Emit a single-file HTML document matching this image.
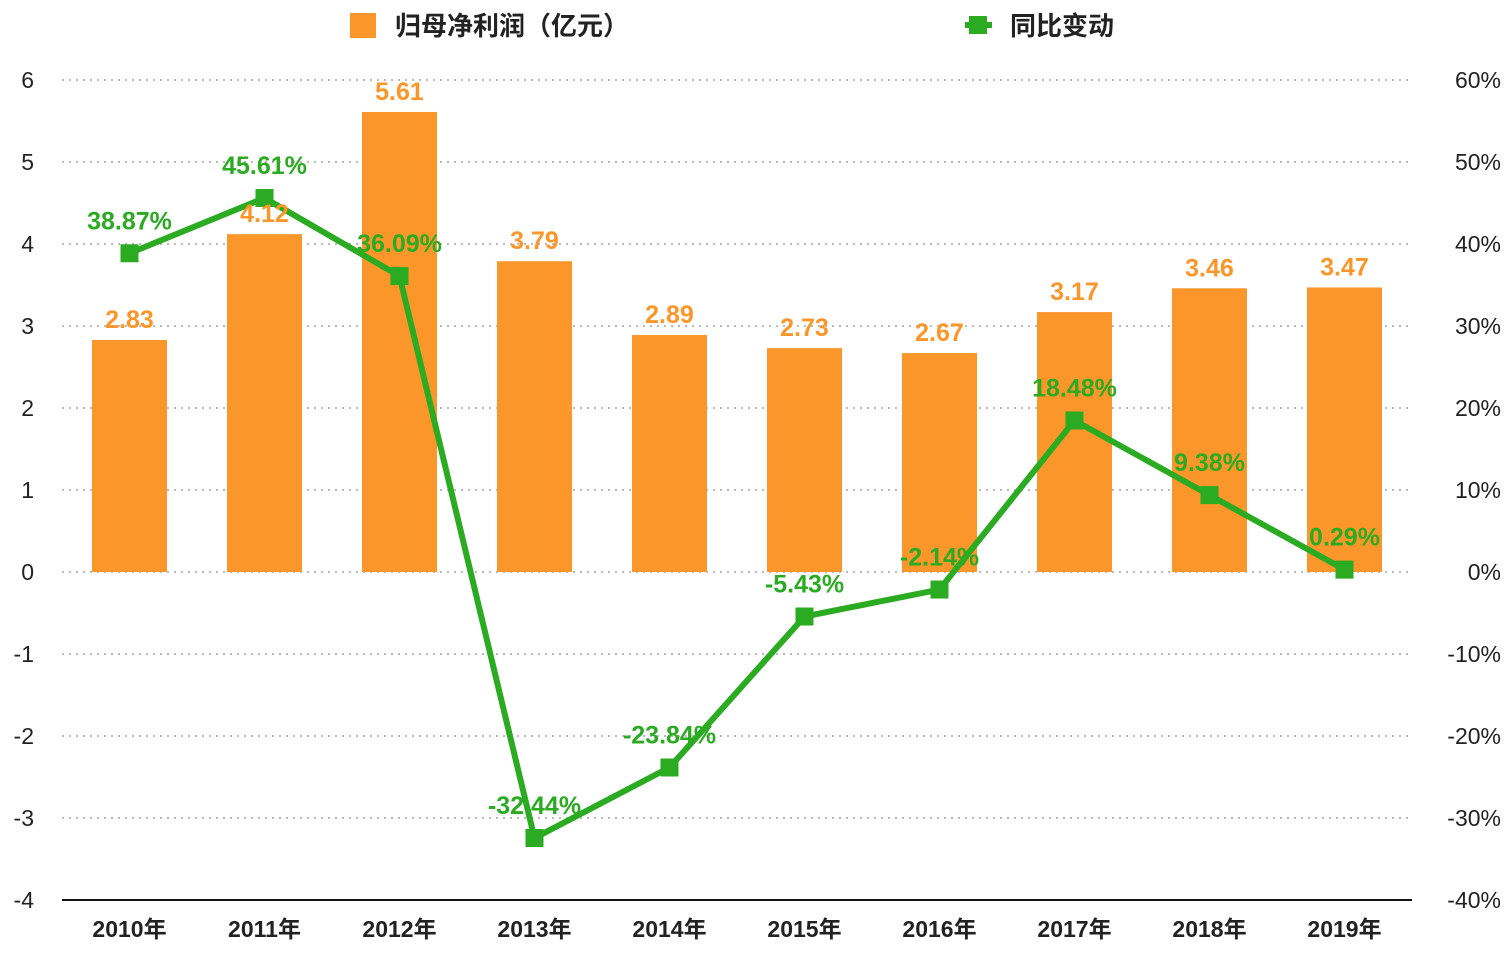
<!DOCTYPE html>
<html><head><meta charset="utf-8"><style>
body{margin:0;background:#fff;}
svg text{font-family:"Liberation Sans","Noto Sans CJK SC",sans-serif;}
</style></head><body>
<svg id="chart" width="1510" height="950" xmlns="http://www.w3.org/2000/svg">
<g>
<rect x="350" y="13" width="26" height="25" fill="#fb962a"/>
<text x="395" y="35" font-size="26" font-weight="bold" fill="#222">归母净利润（亿元）</text>
<line x1="965" y1="25" x2="992" y2="25" stroke="#2aab22" stroke-width="6"/>
<rect x="969" y="16" width="18" height="18" fill="#2aab22"/>
<text x="1010" y="35" font-size="26" font-weight="bold" fill="#222">同比变动</text>
</g>
<g id="grid"></g><g id="bars"></g><g id="line"></g><g id="labels"></g>
</svg>
<script>
const categories=["2010年","2011年","2012年","2013年","2014年","2015年","2016年","2017年","2018年","2019年"];
const profit=[2.83,4.12,5.61,3.79,2.89,2.73,2.67,3.17,3.46,3.47];
const yoy=[38.87,45.61,36.09,-32.44,-23.84,-5.43,-2.14,18.48,9.38,0.29];
const leftTicks=[6,5,4,3,2,1,0,-1,-2,-3,-4];
const rightTicks=["60%","50%","40%","30%","20%","10%","0%","-10%","-20%","-30%","-40%"];
const NS="http://www.w3.org/2000/svg";
const x0=62,x1=1412,band=(x1-x0)/categories.length;
const yL=v=>572-v*82;
const yR=p=>572-p*8.2;
const xC=i=>x0+band*(i+0.5);
function mk(tag,attrs,parent,txt){const e=document.createElementNS(NS,tag);for(const k in attrs)e.setAttribute(k,attrs[k]);if(txt!==undefined)e.textContent=txt;document.getElementById(parent).appendChild(e);return e;}
leftTicks.forEach((t,i)=>{
 const y=yL(t);
 if(t!==-4){const g=mk('line',{x1:x0,x2:x1,y1:y,y2:y,stroke:'#bbb','stroke-width':2,'stroke-dasharray':'2,5'},'grid');
 
 }
 const l=mk('text',{x:34,y:y+8,'font-size':23,'text-anchor':'end',fill:'#222'},'grid',t);
 
 
 const r=mk('text',{x:1501,y:y+8,'font-size':23,'text-anchor':'end',fill:'#222'},'grid',rightTicks[i]);
 
 
});
const ax=mk('line',{x1:x0,x2:x1,y1:900,y2:900,stroke:'#111','stroke-width':2},'grid');


categories.forEach((c,i)=>{
 const t=mk('text',{x:xC(i),y:937,'font-size':23,'font-weight':'bold','text-anchor':'middle',fill:'#222'},'grid',c);
 
 
 const bw=75,top=yL(profit[i]);
 const b=mk('rect',{x:xC(i)-bw/2,y:top,width:bw,height:572-top,fill:'#fb962a'},'bars');
 
 
 const bl=mk('text',{x:xC(i),y:top-12,'font-size':25,'font-weight':'bold','text-anchor':'middle',fill:'#fb962a'},'labels',profit[i].toFixed(2));
 
 
});
const pl=mk('polyline',{points:yoy.map((p,i)=>xC(i)+','+yR(p)).join(' '),fill:'none',stroke:'#2aab22','stroke-width':6,'stroke-linejoin':'miter'},'line');


yoy.forEach((p,i)=>{
 const m=mk('rect',{x:xC(i)-9,y:yR(p)-9,width:18,height:18,fill:'#2aab22'},'line');
 
 
 const l=mk('text',{x:xC(i),y:yR(p)-24,'font-size':25,'font-weight':'bold','text-anchor':'middle',fill:'#2aab22'},'labels',p.toFixed(2)+'%');
 
 
});
</script>
</body></html>
